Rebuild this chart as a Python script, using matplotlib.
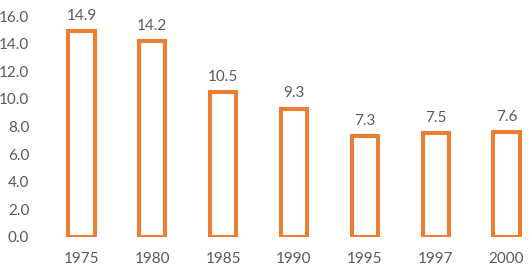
import matplotlib.pyplot as plt

years = ['1975', '1980', '1985', '1990', '1995', '1997', '2000']
values = [14.9, 14.2, 10.5, 9.3, 7.3, 7.5, 7.6]

plt.rcParams['font.family'] = ['Lato', 'DejaVu Sans']

fig = plt.figure(figsize=(5.32, 2.68), dpi=100)
ax = fig.add_axes([46 / 532, 31 / 268, 486 / 532, 221 / 268])

x = range(len(years))
bars = ax.bar(x, values, width=0.37, color='white', edgecolor='#ED7D31', linewidth=2.9)

for i, v in enumerate(values):
    ax.annotate('%.1f' % v, (i, v), xytext=(0, 6), textcoords='offset points',
                ha='center', va='bottom', fontsize=11, color='#595959')

ax.set_xlim(-0.5, 6.36)
ax.set_ylim(0, 16)
ax.set_yticks([0, 2, 4, 6, 8, 10, 12, 14, 16])
ax.set_yticklabels(['%.1f' % t for t in ax.get_yticks()])
ax.set_xticks(list(x))
ax.set_xticklabels(years)
ax.tick_params(length=0, labelsize=11, labelcolor='#595959')
ax.tick_params(axis='x', pad=11)
ax.tick_params(axis='y', pad=12)
for s in ax.spines.values():
    s.set_visible(False)

fig.savefig('out.png', dpi=100)
